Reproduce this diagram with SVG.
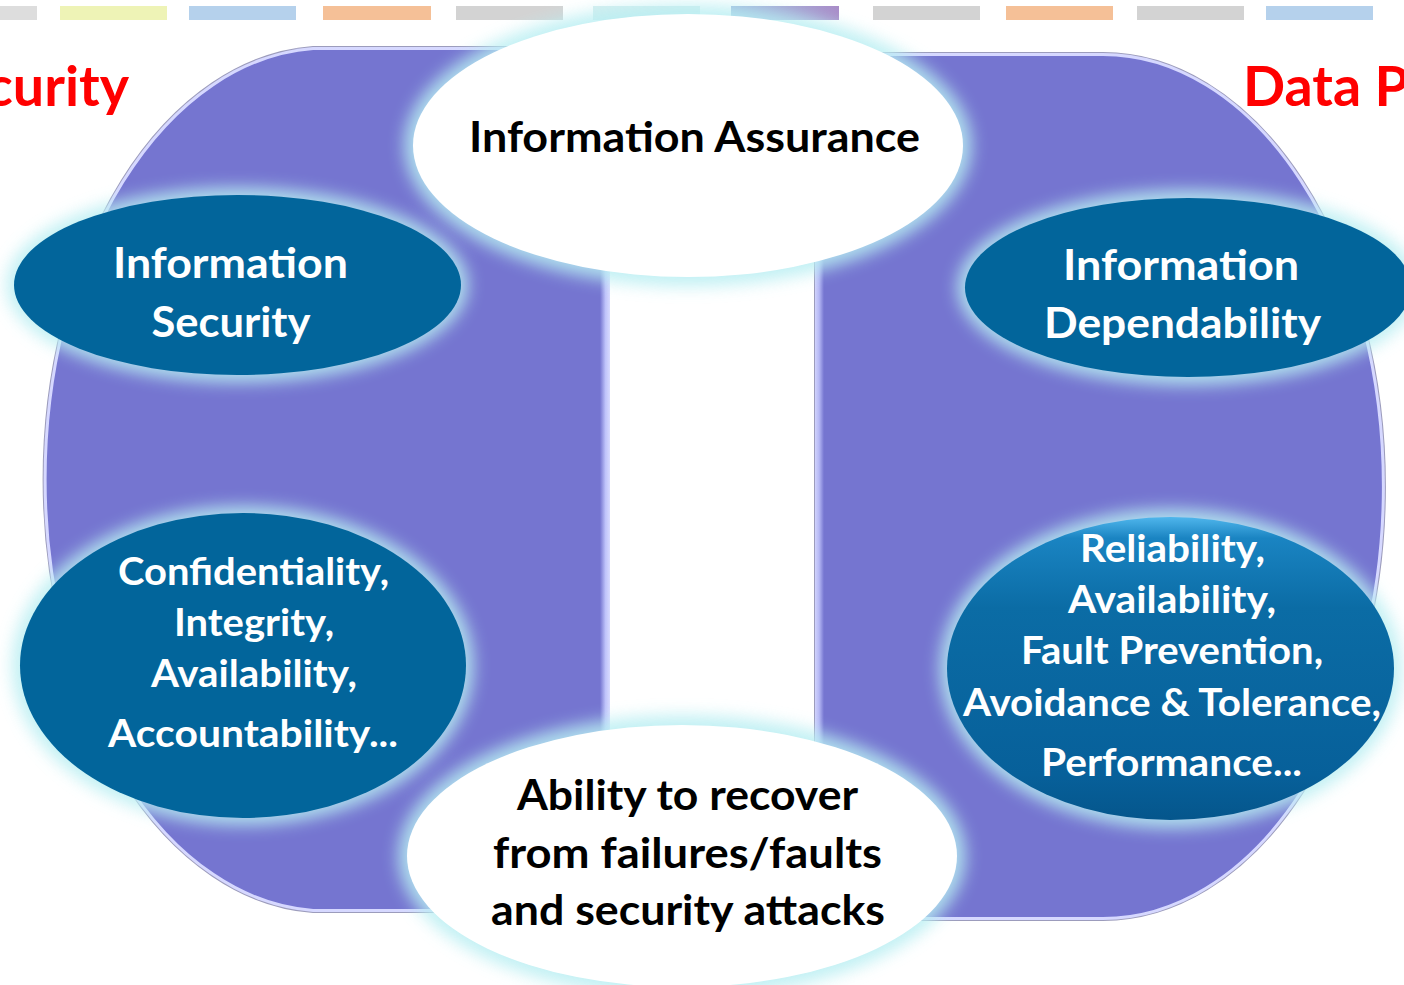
<svg xmlns="http://www.w3.org/2000/svg" width="1404" height="985" viewBox="0 0 1404 985">
<defs>
  <filter id="blur" x="-20%" y="-30%" width="140%" height="160%"><feGaussianBlur stdDeviation="8"/></filter>
  <linearGradient id="gloss" x1="0" y1="0" x2="0" y2="1">
    <stop offset="0" stop-color="#4FB6EC"/>
    <stop offset="0.07" stop-color="#1A84C2"/>
    <stop offset="0.3" stop-color="#0B6CA5"/>
    <stop offset="0.85" stop-color="#07609A"/>
    <stop offset="1" stop-color="#05568C"/>
  </linearGradient>
  <linearGradient id="stripeL" x1="0" y1="0" x2="1" y2="0">
    <stop offset="0" stop-color="#7575D0"/>
    <stop offset="0.55" stop-color="#BFC3FA"/>
    <stop offset="1" stop-color="#D9DBFF"/>
  </linearGradient>
  <linearGradient id="stripeR" x1="0" y1="0" x2="1" y2="0">
    <stop offset="0" stop-color="#D0D2FC"/>
    <stop offset="0.45" stop-color="#B6B9F5"/>
    <stop offset="1" stop-color="#7575D0"/>
  </linearGradient>
  <linearGradient id="barPurple" x1="0" y1="0" x2="1" y2="0">
    <stop offset="0" stop-color="#9EB6DC"/>
    <stop offset="1" stop-color="#A98CC8"/>
  </linearGradient>
  <path id="leftShape" d="M313,47 L609,47 L609,912 L313,912 A283,433 0 0 1 313,47 Z"/>
  <path id="rightShape" d="M815,53 L1103,53 A282,433.5 0 0 1 1103,920 L815,920 Z"/>
  <clipPath id="clipL"><use href="#leftShape"/></clipPath>
  <clipPath id="clipR"><use href="#rightShape"/></clipPath>
</defs>
<style>
  .gray{fill:#D3D3D3}
  .purple{fill:#7575D0;stroke:#9C9CBC;stroke-width:2}
  .rim{fill:none;stroke:#D6D8FF;stroke-width:6}
  .halo{fill:#B8EEF2;opacity:0.85;filter:url(#blur)}
  .dark{fill:#02659B}
  .white{fill:#FFFFFF}
  .t{font-family:Lato,"Open Sans","Liberation Sans",sans-serif;font-weight:bold;text-anchor:middle}
  .big{font-size:42px}
  .mid{font-size:38px}
  .tw{fill:#FFFFFF}
  .tb{fill:#000000}
  .red{font-family:Lato,"Open Sans","Liberation Sans",sans-serif;font-weight:bold;font-size:56px;fill:#FF0000}
</style>
<rect width="1404" height="985" fill="#FFFFFF"/>

<g id="bars">
  <rect x="0" y="6" width="37" height="14" fill="#DDDDDD"/>
  <rect x="60" y="6" width="107" height="14" fill="#EEF3B6"/>
  <rect x="189" y="6" width="107" height="14" fill="#B5D1EC"/>
  <rect x="323" y="6" width="108" height="14" fill="#F5C097"/>
  <rect x="456" y="6" width="107" height="14" class="gray"/>
  <rect x="593" y="6" width="107" height="14" fill="#D6EEEF"/>
  <rect x="731" y="6" width="108" height="14" fill="url(#barPurple)"/>
  <rect x="873" y="6" width="107" height="14" class="gray"/>
  <rect x="1006" y="6" width="107" height="14" fill="#F5C097"/>
  <rect x="1137" y="6" width="107" height="14" class="gray"/>
  <rect x="1266" y="6" width="107" height="14" fill="#B5D1EC"/>
</g>

<g id="titles">
  <text class="red" x="129" y="106" text-anchor="end" textLength="143" lengthAdjust="spacingAndGlyphs">curity</text>
  <text class="red" x="1243" y="106" textLength="166" lengthAdjust="spacingAndGlyphs">Data P</text>
</g>

<g id="panels">
  <use href="#leftShape" class="purple"/>
  <use href="#leftShape" class="rim" clip-path="url(#clipL)"/>
  <use href="#rightShape" class="purple"/>
  <use href="#rightShape" class="rim" clip-path="url(#clipR)"/>
  <rect x="600" y="47" width="10" height="865" fill="url(#stripeL)"/>
  <rect x="815" y="53" width="9" height="867" fill="url(#stripeR)"/>
</g>

<g id="connectors"></g>

<g id="assurance">
  <ellipse class="halo" cx="688" cy="145.5" rx="284" ry="141"/>
  <ellipse class="white" cx="688" cy="145.5" rx="275" ry="131.5"/>
  <text class="t big tb" x="694.5" y="152" textLength="451" lengthAdjust="spacingAndGlyphs">Information Assurance</text>
</g>

<g id="recover">
  <ellipse class="halo" cx="682" cy="856" rx="284" ry="141"/>
  <ellipse class="white" cx="682" cy="856" rx="275" ry="131"/>
  <text class="t big tb" x="687.5" y="810" textLength="341" lengthAdjust="spacingAndGlyphs">Ability to recover</text>
  <text class="t big tb" x="687.5" y="868" textLength="389" lengthAdjust="spacingAndGlyphs">from failures/faults</text>
  <text class="t big tb" x="688" y="925" textLength="394" lengthAdjust="spacingAndGlyphs">and security attacks</text>
</g>

<g id="info-security">
  <ellipse class="halo" cx="237.5" cy="285" rx="231" ry="98"/>
  <ellipse class="dark" cx="237.5" cy="285" rx="223.5" ry="90"/>
  <text class="t big tw" x="230.5" y="278" textLength="235" lengthAdjust="spacingAndGlyphs">Information</text>
  <text class="t big tw" x="231" y="337" textLength="159" lengthAdjust="spacingAndGlyphs">Security</text>
</g>

<g id="info-dependability">
  <ellipse class="halo" cx="1188" cy="287.5" rx="231" ry="98"/>
  <ellipse class="dark" cx="1188" cy="287.5" rx="223" ry="89.5"/>
  <text class="t big tw" x="1181" y="280" textLength="236" lengthAdjust="spacingAndGlyphs">Information</text>
  <text class="t big tw" x="1182.5" y="338" textLength="277" lengthAdjust="spacingAndGlyphs">Dependability</text>
</g>

<g id="security-props">
  <ellipse class="halo" cx="243" cy="665.5" rx="231" ry="160"/>
  <ellipse class="dark" cx="243" cy="665.5" rx="223" ry="152.5"/>
  <text class="t mid tw" x="253.5" y="585" textLength="271" lengthAdjust="spacingAndGlyphs">Confidentiality,</text>
  <text class="t mid tw" x="254" y="636" textLength="160" lengthAdjust="spacingAndGlyphs">Integrity,</text>
  <text class="t mid tw" x="254" y="687" textLength="206" lengthAdjust="spacingAndGlyphs">Availability,</text>
  <text class="t mid tw" x="253" y="747" textLength="290" lengthAdjust="spacingAndGlyphs">Accountability...</text>
</g>

<g id="dependability-props">
  <ellipse class="halo" cx="1170.5" cy="668.5" rx="231" ry="160"/>
  <ellipse cx="1170.5" cy="668.5" rx="223.5" ry="151.5" fill="url(#gloss)"/>
  <text class="t mid tw" x="1172.5" y="562" textLength="185" lengthAdjust="spacingAndGlyphs">Reliability,</text>
  <text class="t mid tw" x="1172" y="613" textLength="208" lengthAdjust="spacingAndGlyphs">Availability,</text>
  <text class="t mid tw" x="1172" y="664" textLength="302" lengthAdjust="spacingAndGlyphs">Fault Prevention,</text>
  <text class="t mid tw" x="1172" y="716" textLength="418" lengthAdjust="spacingAndGlyphs">Avoidance &amp; Tolerance,</text>
  <text class="t mid tw" x="1171.5" y="776" textLength="261" lengthAdjust="spacingAndGlyphs">Performance...</text>
</g>
</svg>
